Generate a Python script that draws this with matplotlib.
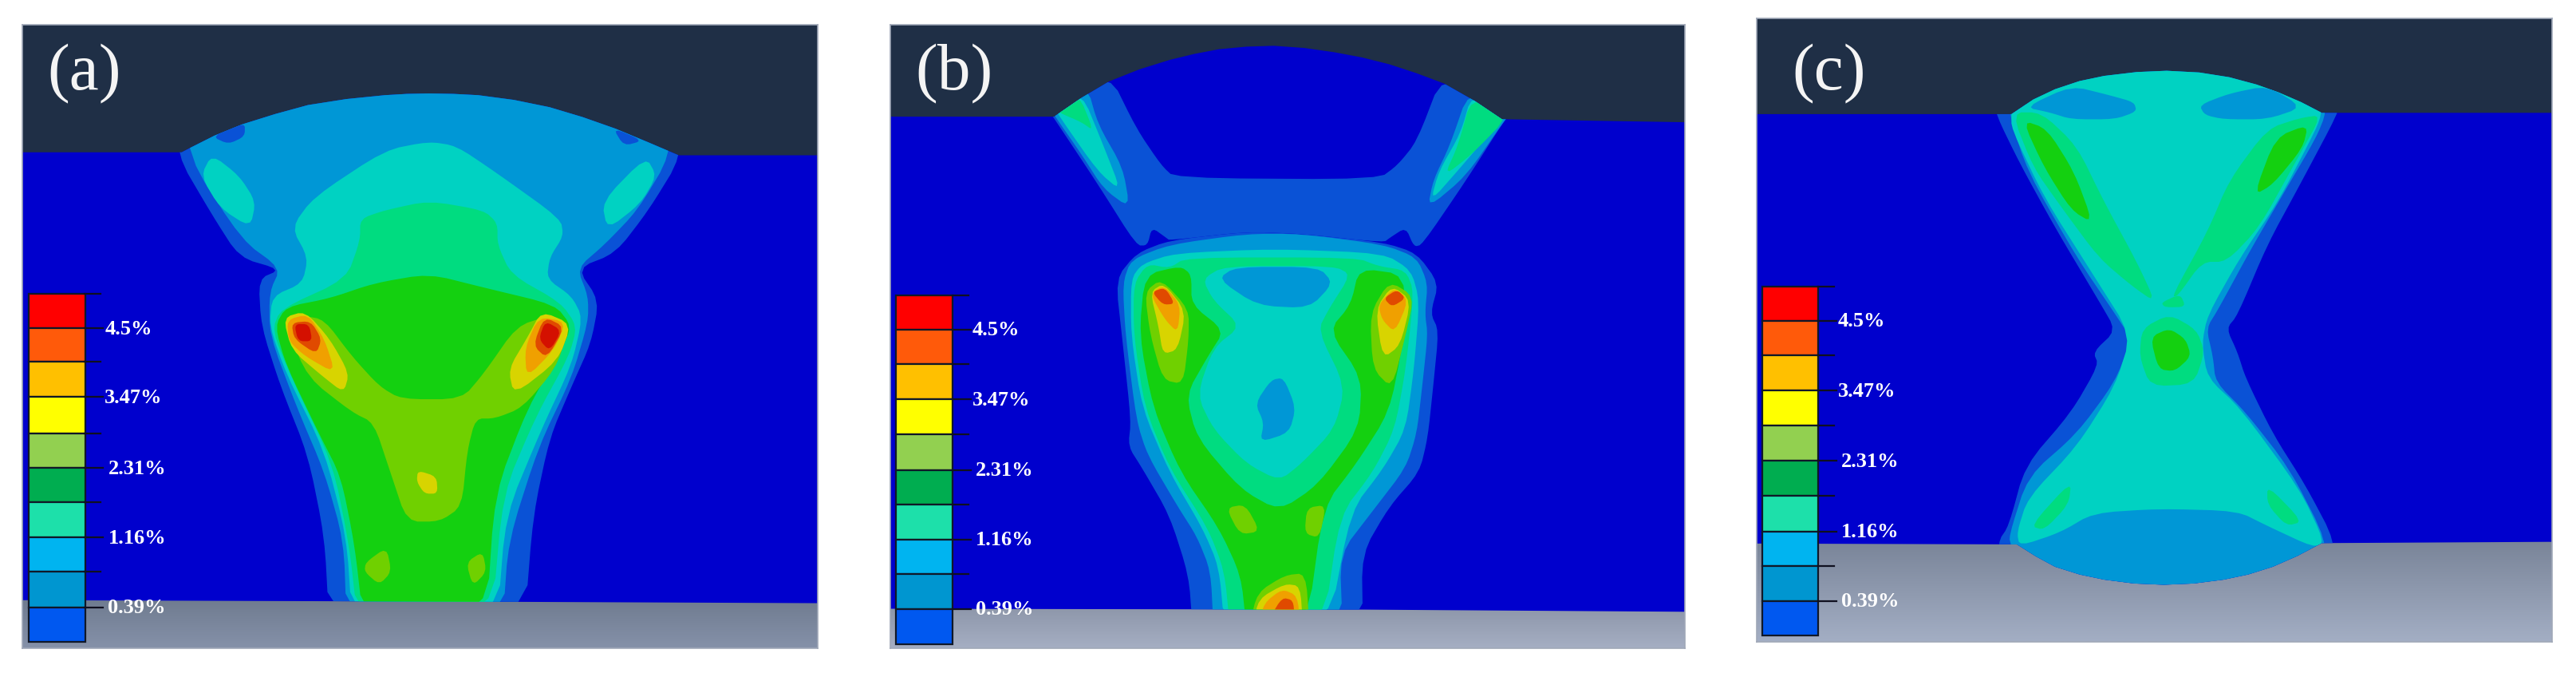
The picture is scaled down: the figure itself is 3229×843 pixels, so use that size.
import numpy as np
import matplotlib
matplotlib.use('Agg')
import matplotlib.pyplot as plt
from matplotlib.colors import to_rgb
from matplotlib.patches import Polygon

# contour level colours, 0 is the plate blue
level_colors = ['#0000cd', '#0a52d6', '#0097d6', '#00d2c2', '#00dc80', '#14d010',
                '#70d000', '#d8d400', '#f0a000', '#e04a00', '#d41000']
bar_colors = ['#ff0000', '#ff5a0a', '#ffc000', '#ffff00', '#92d050',
              '#00ad50', '#1de0aa', '#00b4f0', '#0096d0', '#0058f0']
tick_labels = ['4.5%', '3.47%', '2.31%', '1.16%', '0.39%']

# everything below is in reference-crop units
a_plate = [(40,355),(330,355),(345,345),(390,316),(440,290),(500,266),(560,245),(630,231),(700,222),(740,219),
           (780,218),(825,219),(870,222),(935,233),(1000,250),(1060,273),(1120,300),(1180,332),(1235,362),
           (1488,362),(1488,1405),(955,1402),(40,1398)]
a_layers = [
    (1, [(320,358),(320,180),(1245,180),(1240,365),(1180,490),(1120,590),(1050,625),(1090,700),(1075,800),(1040,900),(1000,1020),(970,1200),(955,1440),(598,1440),(590,1250),(560,1060),(510,900),(475,760),(470,650),(510,628),(435,600),(385,500)]),
    (2, [(340,362),(340,180),(1228,180),(1220,362),(1160,490),(1100,570),(1050,625),(1070,690),(1070,750),(1040,880),(980,1040),(925,1260),(915,1440),(630,1440),(625,1260),(590,1100),(540,950),(490,780),(490,680),(510,625),(440,560)]),
    (1, [(385,318),(445,285),(445,318),(415,336)]),
    (1, [(1115,298),(1170,328),(1135,340)]),
    (3, [(780,330),(830,340),(900,400),(1020,510),(1025,550),(1000,600),(995,650),(1040,690),(1060,740),(1040,850),(985,1000),(920,1200),(905,1440),(640,1440),(630,1250),(590,1050),(520,870),(490,760),(495,690),(550,660),(560,600),(530,530),(570,460),(700,350)]),
    (3, [(385,360),(435,410),(465,470),(455,530),(400,485),(365,410)]),
    (3, [(1175,365),(1195,410),(1165,475),(1105,535),(1095,470)]),
    (4, [(700,490),(780,468),(880,490),(905,520),(905,570),(930,640),(1020,705),(1050,760),(1035,830),(975,970),(915,1150),(895,1440),(650,1440),(635,1270),(605,1080),(530,880),(495,770),(510,720),(630,650),(655,560),(655,510)]),
    (5, [(780,638),(880,670),(1010,710),(1040,760),(1020,820),(960,950),(900,1150),(885,1440),(660,1440),(645,1270),(620,1110),(580,1010),(520,850),(500,760),(520,715),(600,695),(680,660)]),
    (6, [(520,760),(550,735),(590,745),(640,830),(690,900),(730,930),(840,930),(880,870),(940,760),(1000,735),(1035,770),(1010,860),(950,950),(900,975),(865,975),(850,1050),(840,1180),(800,1215),(740,1215),(710,1100),(680,985),(640,960),(560,880)]),
    (6, [(665,1310),(703,1275),(712,1332),(690,1362),(663,1332)]),
    (6, [(848,1310),(878,1285),(885,1332),(860,1365)]),
    (7, [(760,1096),(794,1110),(796,1150),(772,1150),(758,1122)]),
    (7, [(515,740),(555,725),(600,790),(635,870),(625,915),(585,875),(530,815)]),
    (8, [(522,745),(560,732),(590,790),(610,870),(555,830),(525,795)]),
    (9, [(530,752),(565,748),(585,790),(575,825),(535,790)]),
    (10, [(535,755),(562,755),(568,795),(542,795)]),
    (7, [(985,725),(1040,755),(1015,840),(935,920),(925,860),(960,785)]),
    (8, [(980,738),(1030,750),(1008,815),(958,880),(955,810)]),
    (9, [(990,738),(1028,762),(995,835),(970,805)]),
    (10, [(992,748),(1022,770),(1000,818),(980,790)]),
]

b_plate = [(52,272),(350,272),(400,228),(450,190),(505,162),(560,140),(605,126),(650,115),(700,109),(750,107),
           (805,112),(860,122),(910,134),(960,150),(1010,171),(1060,195),(1115,235),(1165,278),
           (1498,285),(1498,1425),(912,1420),(52,1418)]
b_layers = [
    (1, [(348,272),(330,240),(450,170),(500,300),(545,385),(570,415),(940,418),(975,385),(1010,330),(1058,170),(1185,260),(1170,280),(1100,420),(1020,570),(1005,575),(990,530),(960,555),(950,565),(800,545),(700,540),(560,560),(555,555),(528,530),(520,572),(500,572),(430,430)]),
    (1, [(500,590),(560,560),(700,540),(800,545),(950,565),(1010,590),(1050,660),(1035,730),(1050,770),(1040,900),(1030,1020),(1015,1100),(960,1180),(910,1290),(912,1460),(602,1460),(595,1340),(560,1200),(510,1090),(485,1040),(490,980),(475,800),(462,650)]),
    (2, [(352,272),(340,245),(410,200),(430,290),(475,390),(488,485),(440,440),(400,360)]),
    (3, [(360,272),(350,248),(400,215),(440,340),(472,445),(430,400)]),
    (4, [(358,262),(350,245),(395,220),(422,305),(400,285)]),
    (2, [(1105,210),(1185,260),(1170,280),(1100,410),(1030,485),(1040,420),(1070,340)]),
    (3, [(1110,220),(1180,262),(1160,285),(1090,390),(1035,470),(1050,400),(1090,310)]),
    (4, [(1110,225),(1180,268),(1110,360),(1060,410),(1085,340)]),
    (2, [(490,605),(560,570),(700,545),(800,545),(950,570),(1010,600),(1030,660),(1025,730),(1030,780),(1020,900),(1010,1010),(990,1090),(930,1190),(870,1290),(875,1460),(640,1460),(635,1330),(610,1250),(575,1180),(520,1060),(500,980),(480,780),(475,660)]),
    (3, [(510,615),(570,590),(750,580),(950,590),(1000,630),(1015,700),(1005,860),(990,1000),(950,1090),(890,1190),(850,1460),(660,1460),(650,1320),(620,1230),(560,1100),(510,950),(490,780),(490,650)]),
    (4, [(520,615),(560,625),(590,600),(900,600),(940,620),(990,630),(1005,680),(990,860),(970,1000),(930,1100),(870,1200),(840,1460),(670,1460),(660,1330),(630,1230),(560,1090),(515,950),(495,780),(495,660)]),
    (5, [(515,640),(580,620),(600,640),(600,710),(660,770),(630,830),(590,920),(610,1020),(690,1140),(760,1190),(830,1130),(905,1000),(910,880),(850,770),(890,710),(905,625),(990,640),(985,800),(960,960),(900,1080),(840,1180),(810,1460),(700,1460),(690,1340),(650,1230),(580,1100),(530,950),(505,780)]),
    (3, [(620,650),(660,620),(860,620),(890,640),(850,720),(830,770),(880,900),(860,1000),(800,1080),(760,1120),(700,1080),(640,1000),(610,920),(640,810),(690,760),(640,700)]),
    (2, [(648,650),(680,622),(832,622),(858,660),(815,718),(720,712)]),
    (2, [(745,885),(768,880),(790,950),(778,1008),(725,1030),(732,985),(716,940)]),
    (6, [(515,680),(545,650),(595,720),(595,790),(585,895),(548,885),(525,780)]),
    (6, [(925,730),(960,655),(1005,690),(990,780),(965,905),(930,860)]),
    (7, [(525,680),(550,660),(590,725),(575,815),(548,825),(540,760)]),
    (7, [(935,720),(965,665),(1000,700),(980,805),(948,835)]),
    (8, [(525,685),(550,665),(580,710),(575,775),(552,745)]),
    (8, [(940,710),(970,670),(995,700),(970,775),(947,745)]),
    (9, [(528,680),(552,670),(570,708),(548,710)]),
    (9, [(950,695),(974,675),(990,695),(965,715)]),
    (6, [(663,1183),(698,1175),(725,1238),(688,1245)]),
    (6, [(810,1183),(845,1176),(833,1253),(806,1243)]),
    (6, [(720,1380),(770,1340),(808,1335),(815,1460),(705,1460)]),
    (7, [(722,1395),(770,1360),(798,1365),(803,1460),(712,1460)]),
    (8, [(732,1405),(765,1372),(793,1388),(798,1460),(722,1460)]),
    (9, [(742,1440),(765,1392),(785,1398),(788,1440)]),
]

c_plate = [(62,266),(530,266),(570,232),(610,208),(655,189),(700,177),(760,168),(815,165),(875,169),(930,180),
           (980,197),(1020,215),(1062,238),(1100,263),(1523,263),(1523,1262),(1100,1265),(1055,1295),(1010,1320),
           (965,1338),(920,1350),(865,1359),(810,1362),(755,1359),(700,1350),(655,1338),(610,1320),(575,1296),
           (540,1268),(62,1266)]
c_layers = [
    (1, [(502,268),(502,240),(1130,240),(1130,263),(1060,430),(1000,570),(945,735),(925,765),(945,820),(960,880),(1010,1010),(1070,1130),(1125,1262),(1125,1400),(505,1400),(505,1262),(525,1225),(555,1085),(640,960),(690,850),(680,820),(722,770),(690,700),(610,530),(545,380)]),
    (2, [(525,266),(525,150),(1108,150),(1108,263),(1090,320),(1030,450),(970,580),(910,720),(888,765),(900,830),(905,890),(960,960),(1040,1090),(1110,1262),(1110,1400),(530,1400),(530,1272),(525,1250),(560,1110),(650,1010),(720,890),(750,790),(725,740),(650,600),(560,400)]),
    (3, [(530,262),(530,150),(1100,150),(1100,262),(1090,300),(1020,470),(950,600),(890,735),(880,800),(890,880),(950,950),(1060,1140),(1105,1262),(1085,1275),(1000,1225),(945,1190),(800,1185),(680,1195),(620,1240),(545,1272),(540,1240),(560,1160),(650,1040),(720,900),(750,780),(680,640),(590,460),(530,300)]),
    (2, [(555,250),(640,200),(710,222),(755,238),(760,260),(720,278),(640,278),(600,262)]),
    (2, [(875,245),(930,218),(1000,200),(1065,250),(1000,278),(920,278),(885,268)]),
    (4, [(530,262),(585,262),(650,340),(700,470),(760,610),(795,705),(750,665),(690,600),(620,480),(570,390)]),
    (4, [(1100,268),(1055,370),(985,530),(925,610),(880,610),(835,690),(825,690),(890,540),(930,420),(1000,300),(1060,275)]),
    (4, [(770,765),(820,732),(870,768),(885,820),(865,895),(785,900),(765,830)]),
    (4, [(565,1225),(640,1120),(635,1175),(590,1235)]),
    (4, [(1000,1130),(1065,1215),(1035,1225),(1000,1175)]),
    (4, [(805,705),(840,685),(850,715),(812,716)]),
    (5, [(550,280),(595,300),(645,400),(680,520),(640,490),(590,390)]),
    (5, [(975,455),(1015,320),(1075,290),(1065,345),(1010,430)]),
    (5, [(785,785),(820,765),(850,790),(860,830),(830,865),(800,860)]),
]

a_bar_edges = [685, 765, 843, 925, 1010, 1090, 1170, 1252, 1332, 1415, 1495]
b_bar_edges = [688, 768, 848, 930, 1012, 1095, 1175, 1257, 1338, 1418, 1500]
c_bar_edges = [667, 747, 827, 910, 992, 1073, 1155, 1238, 1318, 1400, 1480]

W, H = 3230, 843


def chaikin(pts, n=2):
    pts = np.array(pts, dtype=float)
    for _ in range(n):
        nxt = np.roll(pts, -1, axis=0)
        pts = np.column_stack([0.8*pts + 0.2*nxt, 0.2*pts + 0.8*nxt]).reshape(-1, 2)
    return pts


def gradient(ax, extent, c0, c1):
    t = np.linspace(0, 1, 128)[:, None, None]
    img = (1-t)*np.array(to_rgb(c0)) + t*np.array(to_rgb(c1))
    ax.imshow(img, extent=extent, aspect='auto', interpolation='bilinear', zorder=1)


def draw_panel(box, lims, plate, layers, bar_x, edges, lab_x, ground, letter, letter_x):
    l, t, r, b = box
    ax = fig.add_axes([l/W, 1-b/H, (r-l)/W, (b-t)/H])
    x0, x1, y0, y1 = lims
    ax.add_patch(plt.Rectangle((x0, y0), x1-x0, y1-y0, fc='#1f2f46', ec='none', zorder=0))
    low = min(p[1] for p in plate if p[1] > y0+700)
    gradient(ax, (x0, x1, y1, low-10), ground[0], ground[1])
    clip = Polygon(plate, closed=True, fc=level_colors[0], ec='none', zorder=2)
    ax.add_patch(clip)
    for lev, pts in layers:
        p = Polygon(chaikin(pts), closed=True, fc=level_colors[lev], ec='none', zorder=3)
        ax.add_patch(p)
        p.set_clip_path(clip)

    # legend bar
    for i, col in enumerate(bar_colors):
        ax.bar(bar_x, edges[i+1]-edges[i], width=103, bottom=edges[i], color=col,
               edgecolor='#101828', linewidth=1.6, zorder=5)
    for i, e in enumerate(edges[:-1]):
        ax.plot([bar_x+51, bar_x+(84 if i % 2 else 80)], [e, e], color='#101020', lw=1.6, zorder=5)
    for i, s in enumerate(tick_labels):
        off = 0 if i < 2 else 6
        ax.text(lab_x+off, edges[2*i+1]+2, s, color='white', fontsize=19, fontweight='bold',
                family='Liberation Serif', ha='left', va='center', zorder=6)
    ax.text(letter_x, 172, letter, color='#f4f4f4', fontsize=60, family='Liberation Serif',
            ha='left', va='center', zorder=6)

    ax.set_xlim(x0, x1)
    ax.set_ylim(y1, y0)
    ax.set_xticks([])
    ax.set_yticks([])
    for s in ax.spines.values():
        s.set_color('#a0a8b8')
        s.set_linewidth(1.2)


fig = plt.figure(figsize=(W/100, H/100), dpi=100)
fig.patch.set_facecolor('white')

draw_panel((28, 31, 1025, 812), (40, 1488, 58, 1510), a_plate, a_layers, 103, a_bar_edges, 190,
           ('#6e7a8e', '#8591a9'), '(a)', 85)
draw_panel((1116, 31, 2112, 812), (52, 1498, 58, 1510), b_plate, b_layers, 114, b_bar_edges, 201,
           ('#8c95a8', '#a5aec3'), '(b)', 97)
draw_panel((2202, 23, 3199, 804), (62, 1523, 43, 1495), c_plate, c_layers, 124, c_bar_edges, 211,
           ('#788397', '#a3aec4'), '(c)', 127)

fig.savefig('out.png', dpi=100)
